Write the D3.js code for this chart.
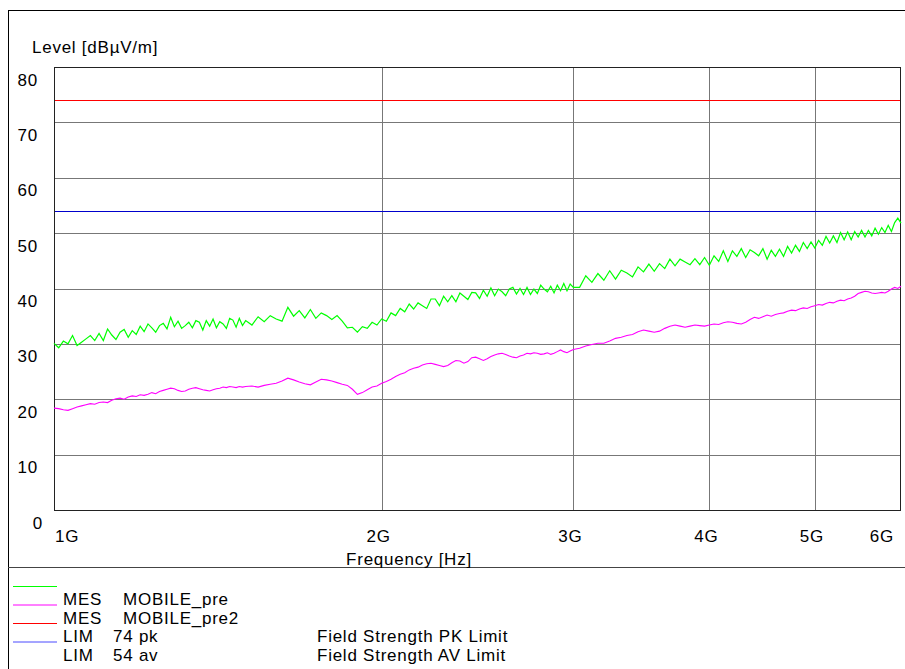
<!DOCTYPE html>
<html>
<head>
<meta charset="utf-8">
<style>
body { margin: 0; background: #fff; }
svg { font-family: "Liberation Sans", Arial, sans-serif; font-size: 17px; letter-spacing: 0.75px; }
</style>
</head>
<body>
<svg width="905" height="669"></svg>
<script src="https://cdn.jsdelivr.net/npm/d3@7"></script>
<script>
// sweep frequencies in MHz
var freqMHz = [
  1000,1010,1020,1030,1040,1050,1060,1070,1080,1090,
  1100,1110,1120,1130,1140,1150,1160,1170,1180,1190,
  1200,1210,1220,1230,1240,1250,1260,1270,1280,1290,
  1300,1310,1320,1330,1340,1350,1360,1370,1380,1390,
  1400,1410,1420,1430,1440,1450,1460,1470,1480,1490,
  1500,
  1520,1540,1560,1580,1600,1620,1640,1660,1680,1700,
  1720,1740,1760,1780,1800,1820,1840,1860,1880,1900,
  1920,1940,1960,1980,2000,2020,2040,2060,2080,2100,
  2120,2140,2160,2180,2200,2220,2240,2260,2280,2300,
  2320,2340,2360,2380,2400,2420,2440,2460,2480,2500,
  2520,2540,2560,2580,2600,2620,2640,2660,2680,2700,
  2720,2740,2760,2780,2800,2820,2840,2860,2880,2900,
  2920,2940,2960,2980,3000,
  3040,3080,3120,3160,3200,3240,3280,3320,3360,3400,
  3440,3480,3520,3560,3600,3640,3680,3720,3760,3800,
  3840,3880,3920,3960,4000,4040,4080,4120,4160,4200,
  4240,4280,4320,4360,4400,4440,4480,4520,4560,4600,
  4640,4680,4720,4760,4800,4840,4880,4920,4960,5000,
  5040,5080,5120,5160,5200,5240,5280,5320,5360,5400,
  5440,5480,5520,5560,5600,5640,5680,5720,5760,5800,
  5840,5880,5920,5960,6000
];

// MES MOBILE_pre (green)
var levelPre = [
  30.1,29.3,30.5,30.0,31.5,29.7,30.3,30.9,31.5,30.6,
  31.9,30.6,32.7,31.6,30.8,32.1,32.6,31.2,32.4,31.7,
  33.2,32.2,33.6,32.9,32.1,33.3,33.7,32.7,34.8,33.1,
  34.1,32.8,33.3,33.9,32.9,34.2,33.9,32.5,34.2,33.2,
  34.5,32.9,34.0,33.6,32.8,34.6,34.3,33.0,34.6,33.3,
  34.2,
  33.4,34.9,34.0,35.1,34.5,34.1,36.6,35.0,36.0,34.7,
  36.2,34.6,35.6,35.1,34.4,35.1,34.1,32.9,33.0,32.1,
  33.1,32.8,33.9,33.4,34.5,34.1,35.6,35.1,36.4,35.8,
  37.2,36.3,37.4,36.9,36.4,38.1,38.1,36.9,38.6,37.6,
  38.7,37.6,39.2,38.6,38.0,39.3,39.2,38.2,39.7,38.6,
  40.1,38.7,39.9,39.4,38.7,39.9,40.2,39.0,40.0,38.9,
  40.2,38.9,39.9,39.1,40.6,39.9,39.4,40.4,39.2,40.6,
  39.6,40.9,39.6,40.8,40.2,
  40.2,42.3,41.1,42.7,41.5,43.2,41.7,43.3,42.8,42.1,
  43.9,43.0,44.4,43.1,44.5,43.6,45.3,44.1,45.3,44.8,
  44.3,45.4,44.3,45.6,44.2,45.9,44.9,46.8,44.9,46.8,
  45.8,47.2,45.6,47.0,46.5,45.9,47.2,45.3,46.9,45.8,
  47.1,45.8,47.6,46.4,47.8,46.7,48.3,47.2,48.4,47.3,
  48.7,47.8,49.4,48.2,49.5,48.3,50.1,48.8,50.2,48.8,
  50.3,49.3,50.5,49.3,50.5,49.5,50.9,49.8,51.0,50.1,
  51.4,50.3,51.9,52.7,51.8
];

// MES MOBILE_pre2 (magenta)
var levelPre2 = [
  18.4,18.3,18.1,18.0,18.3,18.6,18.8,19.0,19.2,19.1,
  19.4,19.5,19.4,19.8,20.1,20.2,20.0,20.4,20.6,20.5,
  20.8,20.7,20.9,21.2,21.0,21.4,21.6,21.8,22.0,21.9,
  21.6,21.4,21.5,21.8,22.0,22.1,21.9,21.7,21.6,21.5,
  21.7,21.9,22.0,22.2,22.1,22.3,22.2,22.1,22.3,22.2,
  22.3,
  22.4,22.2,22.5,22.7,22.9,23.3,23.8,23.5,23.1,22.8,
  22.6,23.1,23.6,23.5,23.3,23.0,22.7,22.5,21.8,20.9,
  21.2,21.7,22.2,22.4,22.9,23.2,23.6,24.1,24.5,24.8,
  25.3,25.6,25.8,26.2,26.4,26.5,26.3,26.1,25.9,26.1,
  26.6,27.0,26.9,26.5,26.8,27.5,27.6,27.3,27.0,27.3,
  27.7,28.0,28.2,28.3,28.1,27.8,27.6,27.5,27.8,28.0,
  28.3,28.2,28.4,28.3,28.1,28.2,28.4,28.1,28.3,28.6,
  28.9,28.6,28.4,28.7,29.0,
  29.2,29.6,29.9,30.1,30.1,30.5,31.0,31.2,31.5,31.7,
  32.2,32.5,32.3,32.1,32.3,32.8,33.2,33.4,33.2,33.0,
  33.2,33.4,33.3,33.2,33.4,33.6,33.5,33.8,34.0,33.9,
  33.7,33.6,33.9,34.4,34.8,34.6,34.9,35.2,35.0,35.3,
  35.5,35.6,35.9,36.1,36.0,36.3,36.5,36.4,36.7,36.9,
  37.1,37.0,37.3,37.5,37.4,37.7,37.9,37.8,38.1,38.3,
  38.6,39.1,39.3,39.5,39.4,39.2,39.1,39.2,39.3,39.2,
  39.5,39.9,40.2,40.0,40.4
];

var limitValues = [74, 54];
var limitColors = ["#ff0000", "#0000cc"];

var yTicks = [0, 10, 20, 30, 40, 50, 60, 70, 80];
var xTicks = [1000, 2000, 3000, 4000, 5000, 6000];
var xTickLabels = ["1G", "2G", "3G", "4G", "5G", "6G"];

var legendType = ["MES", "MES", "LIM", "LIM"];
var legendName = ["MOBILE_pre", "MOBILE_pre2", "74 pk", "54 av"];
var legendDesc = ["", "", "Field Strength PK Limit", "Field Strength AV Limit"];
var legendColor = ["#00ff00", "#ff00ff", "#ff0000", "#4a4aff"];

var svg = d3.select("svg");

var x = d3.scaleLog().domain([1000, 6000]).range([54, 901]);
var y = d3.scaleLinear().domain([0, 80]).range([510, 67]);

// outer frame
svg.append("line").attr("x1", 8).attr("x2", 905).attr("y1", 10.5).attr("y2", 10.5)
    .attr("stroke", "#000");
svg.append("line").attr("x1", 8.5).attr("x2", 8.5).attr("y1", 10).attr("y2", 669)
    .attr("stroke", "#000");
svg.append("line").attr("x1", 8).attr("x2", 905).attr("y1", 567.5).attr("y2", 567.5)
    .attr("stroke", "#444");

// grid
svg.append("g").selectAll("line")
    .data(yTicks.filter(function(d) { return d > 0 && d < 80; }))
  .enter().append("line")
    .attr("x1", 54).attr("x2", 901)
    .attr("y1", function(d) { return Math.round(y(d)) + 0.5; })
    .attr("y2", function(d) { return Math.round(y(d)) + 0.5; })
    .attr("stroke", "#777");

svg.append("g").selectAll("line")
    .data(xTicks.slice(1, -1))
  .enter().append("line")
    .attr("y1", 67).attr("y2", 510)
    .attr("x1", function(d) { return Math.round(x(d)) + 0.5; })
    .attr("x2", function(d) { return Math.round(x(d)) + 0.5; })
    .attr("stroke", "#777");

// plot border
svg.append("rect").attr("x", 54.5).attr("y", 67.5).attr("width", 846).attr("height", 443)
    .attr("fill", "none").attr("stroke", "#222");

// limit lines
svg.append("g").selectAll("line")
    .data(limitValues)
  .enter().append("line")
    .attr("x1", 55).attr("x2", 900)
    .attr("y1", function(d) { return Math.round(y(d)) + 0.5; })
    .attr("y2", function(d) { return Math.round(y(d)) + 0.5; })
    .attr("stroke", function(d, i) { return limitColors[i]; });

// traces
var line = d3.line()
    .x(function(d) { return x(d[0]); })
    .y(function(d) { return y(d[1]); });

svg.append("path")
    .datum(freqMHz.map(function(f, i) { return [f, levelPre2[i]]; }))
    .attr("d", line).attr("fill", "none").attr("stroke", "#ff00ff").attr("stroke-width", 1.1);

svg.append("path")
    .datum(freqMHz.map(function(f, i) { return [f, levelPre[i]]; }))
    .attr("d", line).attr("fill", "none").attr("stroke", "#00ff00").attr("stroke-width", 1.2);

// y axis labels
svg.append("g").selectAll("text")
    .data(yTicks)
  .enter().append("text")
    .attr("x", function(d) { return d === 0 ? 43 : 38; })
    .attr("y", function(d) { return y(d) + 18.5; })
    .attr("text-anchor", "end")
    .text(function(d) { return d; });

// x axis labels
svg.append("g").selectAll("text")
    .data(xTicks)
  .enter().append("text")
    .attr("x", function(d, i) {
      if (i === 0) return 55;
      if (i === xTicks.length - 1) return 894;
      return x(d) - 3;
    })
    .attr("y", 542)
    .attr("text-anchor", function(d, i) {
      return i === 0 ? "start" : (i === xTicks.length - 1 ? "end" : "middle");
    })
    .text(function(d, i) { return xTickLabels[i]; });

svg.append("text").attr("x", 32).attr("y", 53).text("Level [dBµV/m]");
svg.append("text").attr("x", 409).attr("y", 565).attr("text-anchor", "middle").text("Frequency [Hz]");

// legend
var leg = svg.append("g").selectAll("g")
    .data(legendType)
  .enter().append("g")
    .attr("transform", function(d, i) { return "translate(0," + (605 + i * 18.5) + ")"; });

leg.append("line")
    .attr("x1", 13).attr("x2", 57)
    .attr("y1", -18.5).attr("y2", -18.5)
    .attr("stroke", function(d, i) { return legendColor[i]; });

leg.append("text").attr("x", 63).text(function(d) { return d; });
leg.append("text")
    .attr("x", function(d) { return d === "MES" ? 123 : 113; })
    .text(function(d, i) { return legendName[i]; });
leg.append("text").attr("x", 317).text(function(d, i) { return legendDesc[i]; });
</script>
</body>
</html>
